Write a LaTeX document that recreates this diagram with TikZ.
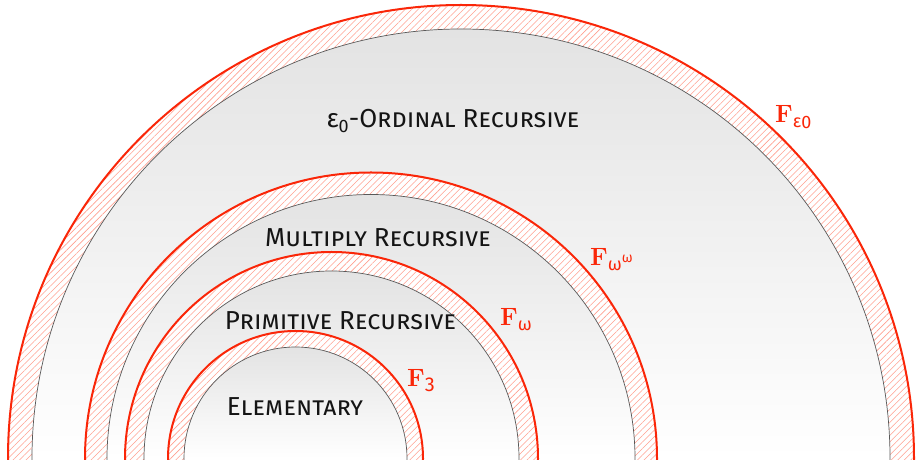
\documentclass[tikz,border=0pt]{standalone}
\usepackage{fontspec}
\newfontfamily\fira{Fira Sans}
\usetikzlibrary{patterns.meta}
\definecolor{ringred}{RGB}{250,38,8}
\definecolor{hatchred}{RGB}{255,160,145}
\newcommand\subtxt[1]{\raisebox{-5pt}{\fontsize{18}{18}\selectfont\fira\mdseries #1}}
\tikzset{
  hatchband/.style={pattern={Lines[angle=45,distance=4.6pt,line width=0.55pt]}, pattern color=hatchred},
  redring/.style={draw=ringred, line width=2pt},
  core/.style={draw=black!65, line width=0.7pt, top color=black!11, bottom color=white, middle color=white},
  lab/.style={font=\fontsize{26}{28}\selectfont\fira\scshape, text=black!92, anchor=base, inner sep=0pt},
  flab/.style={font=\fontsize{25}{27}\selectfont\bfseries, text=ringred, anchor=base west, inner sep=0pt}
}
\begin{document}
\begin{tikzpicture}[x=1pt,y=1pt]
\useasboundingbox (0,0) rectangle (916,460);
\clip (0,0) rectangle (916,460);
\fill[white] (0,0) rectangle (916,460);
% centres
\coordinate (cO) at (461,2);
\coordinate (cM) at (371,1.5);
\coordinate (cP) at (331.5,1.5);
\coordinate (cE) at (295.5,1.5);
% outer
\fill[white] (cO) circle (453);
\path[hatchband] (cO) circle (453);
\draw[redring] (cO) circle (453);
\draw[core] (cO) circle (429);
% multiply
\fill[white] (cM) circle (286);
\path[hatchband] (cM) circle (286);
\draw[redring] (cM) circle (286);
\draw[core] (cM) circle (264);
% primitive
\fill[white] (cP) circle (206.5);
\path[hatchband] (cP) circle (206.5);
\draw[redring] (cP) circle (206.5);
\draw[core] (cP) circle (187.5);
% elementary
\fill[white] (cE) circle (127.5);
\path[hatchband] (cE) circle (127.5);
\draw[redring] (cE) circle (127.5);
\draw[core] (cE) circle (111.5);
% labels
\node[lab] (lO) at (453,332) {{\upshape ε}\subtxt{0}-Ordinal Recursive};
\node[lab] (lM) at (378,213) {Multiply Recursive};
\node[lab] (lP) at (340.5,130) {Primitive Recursive};
\node[lab] (lE) at (295,44) {Elementary};
\node[flab] (fO) at (775,337) {F\subtxt{ε\raisebox{-1pt}{0}}};
\node[flab] (fM) at (590,194) {F\subtxt{ω\raisebox{8pt}{\fontsize{14}{14}\selectfont ω}}};
\node[flab] (fP) at (500,134) {F\subtxt{ω}};
\node[flab] (fE) at (407,73) {F\subtxt{\fontsize{20}{20}\selectfont 3}};
\end{tikzpicture}
\end{document}
